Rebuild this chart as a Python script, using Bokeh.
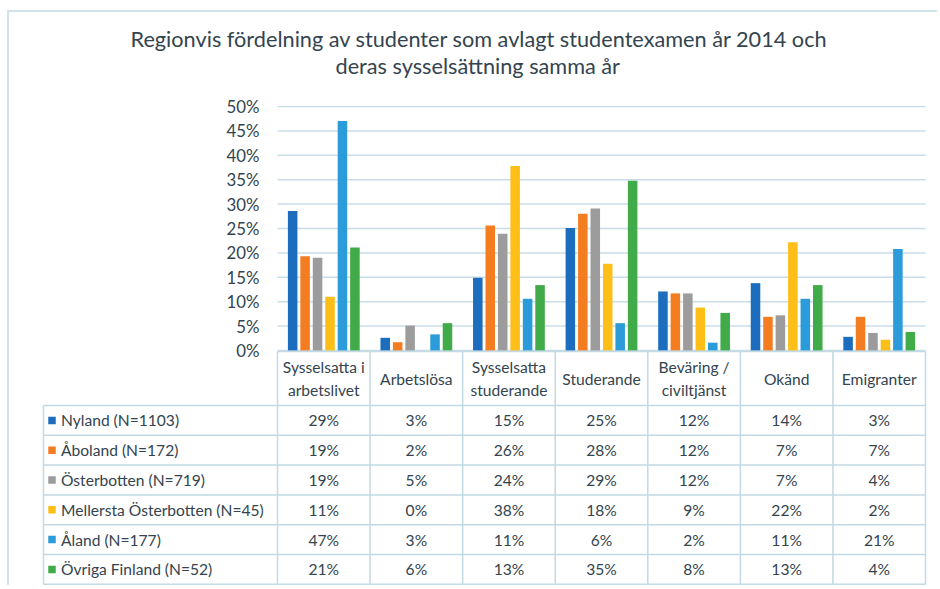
from bokeh.plotting import figure
from bokeh.models import Range1d, FixedTicker, PrintfTickFormatter, Title, LinearAxis
from bokeh.core.properties import value
from bokeh.embed import file_html
from bokeh.resources import INLINE

# ---------------- data ----------------
title_lines = ["Regionvis fördelning av studenter som avlagt studentexamen år 2014 och",
               "deras sysselsättning samma år"]
categories = ["Sysselsatta i arbetslivet", "Arbetslösa", "Sysselsatta studerande", "Studerande",
              "Beväring / civiltjänst", "Okänd", "Emigranter"]
header_labels = ["Sysselsatta i\narbetslivet", "Arbetslösa", "Sysselsatta\nstuderande", "Studerande",
                 "Beväring /\nciviltjänst", "Okänd", "Emigranter"]
regions = ["Nyland (N=1103)", "Åboland (N=172)", "Österbotten (N=719)",
           "Mellersta Österbotten (N=45)", "Åland (N=177)", "Övriga Finland (N=52)"]
colors = ["#1c6dbd", "#f47d22", "#9c9c9c", "#fdbf17", "#2b9bd9", "#40ab48"]

nyland = [28.6, 2.6, 14.9, 25.1, 12.1, 13.8, 2.8]
aboland = [19.3, 1.7, 25.6, 28.0, 11.7, 6.9, 6.9]
osterbotten = [19.0, 5.1, 23.9, 29.1, 11.7, 7.2, 3.6]
mellersta = [11.0, 0.0, 37.8, 17.8, 8.8, 22.2, 2.2]
aland = [47.0, 3.3, 10.6, 5.6, 1.6, 10.6, 20.8]
ovriga = [21.1, 5.6, 13.4, 34.8, 7.7, 13.4, 3.8]
series = [nyland, aboland, osterbotten, mellersta, aland, ovriga]

y_ticks = [0, 5, 10, 15, 20, 25, 30, 35, 40, 45, 50]

# ---------------- layout constants (page pixels) ----------------
FONT = "Lato"
TXT = "#33444f"
GRID = "#c8dde8"
LINE = "#c3d9e4"
FRAME_LINE = "#d0e2ea"

LEFT0, TOP0 = 9, 12    # page position of figure content
W, HGT = 930, 575
FRAME_TOP = 105
TOP_BORDER = FRAME_TOP - TOP0
CAT_LEFT = 277         # page x of first category
CAT_PX = 648 / 7       # pixels per category
Y_PX = 245 / 50.2      # pixels per percent
ZERO_Y = 350           # page y of 0 %
FRAME_BOT = TOP0 + HGT

def ux(px):
    return (px - CAT_LEFT) / CAT_PX

def uy(py):
    return (ZERO_Y - py) / Y_PX

nc, nr = len(categories), len(series)

p = figure(width=W, height=HGT,
           x_range=Range1d(ux(LEFT0), ux(LEFT0 + W)),
           y_range=Range1d(uy(FRAME_BOT), uy(FRAME_TOP)),
           output_backend="svg", toolbar_location=None,
           x_axis_location=None, y_axis_location=None,
           min_border_left=0, min_border_right=0, min_border_top=TOP_BORDER, min_border_bottom=0)
p.grid.visible = False
p.outline_line_color = None

# y axis (labels sit to the left of the category area)
yax = LinearAxis(ticker=FixedTicker(ticks=y_ticks), formatter=PrintfTickFormatter(format="%d%%"))
yax.axis_line_color = None
yax.major_tick_line_color = None
yax.minor_tick_line_color = None
yax.major_tick_out = 0
yax.major_tick_in = 0
yax.major_label_standoff = -(259 - LEFT0)
yax.major_label_text_font = FONT
yax.major_label_text_font_size = "16.8px"
yax.major_label_text_color = TXT
p.add_layout(yax, "left")

# gridlines over the category area
p.segment(x0=[0] * len(y_ticks), x1=[nc] * len(y_ticks), y0=y_ticks, y1=y_ticks,
          line_color=GRID, line_width=1.5)

# bars
pitch = 0.1345
bw = 0.103
for j, s in enumerate(series):
    xs = [i + 0.5 + (j - (nr - 1) / 2) * pitch for i in range(nc)]
    p.vbar(x=xs, top=s, bottom=0, width=bw, fill_color=colors[j], line_color=None)

# title: two lines, each centred on the chart
tstyle = dict(text_font=FONT, text_font_size="21.7px", text_font_style="normal", text_color=TXT)
try:
    t2 = Title(text=title_lines[1], align="left", offset=335 - LEFT0, standoff=54, **tstyle)
    t1 = Title(text=title_lines[0], align="left", offset=130 - LEFT0, standoff=-57, **tstyle)
    p.add_layout(t2, "above")
    p.add_layout(t1, "above")
except Exception:
    tkw = dict(text="\n".join(title_lines), align="center", **tstyle)
    p.add_layout(Title(**tkw), "above")

# ---------------- data table ----------------
tab_left = ux(43)
h_top = uy(351)
h_bot = uy(405)
row_h = 29.8 / Y_PX

hx0 = [tab_left] * (nr + 1) + [0]
hx1 = [nc] * (nr + 2)
hy = [h_bot - r * row_h for r in range(nr + 1)] + [h_top]
p.segment(x0=hx0, y0=hy, x1=hx1, y1=hy, line_color=LINE, line_width=1.5)
vx = [tab_left] + list(range(nc + 1))
vy0 = [h_bot - nr * row_h] * (nc + 2)
vy1 = [h_bot] + [h_top] * (nc + 1)
p.segment(x0=vx, y0=vy0, x1=vx, y1=vy1, line_color=LINE, line_width=1.5)

TFS = "15.6px"
p.text(x=[i + 0.5 for i in range(nc)], y=[(h_top + h_bot) / 2] * nc, text=header_labels,
       text_align="center", text_baseline="middle", text_font=value(FONT), text_font_size=TFS,
       text_color=TXT, text_line_height=1.25)

ry = [h_bot - (r + 0.5) * row_h for r in range(nr)]
p.scatter(x=[ux(51.5)] * nr, y=ry, marker="square", size=7.5, fill_color=colors, line_color=None)
p.text(x=[ux(60.5)] * nr, y=ry, text=regions, text_align="left", text_baseline="middle",
       text_font=value(FONT), text_font_size=TFS, text_color=TXT)

cx, cy, ct = [], [], []
for r, s in enumerate(series):
    for i, v in enumerate(s):
        cx.append(i + 0.5)
        cy.append(ry[r])
        ct.append(f"{v:.0f}%")
p.text(x=cx, y=cy, text=ct, text_align="center", text_baseline="middle",
       text_font=value(FONT), text_font_size=TFS, text_color=TXT)

p.styles = {"margin-left": "7px", "margin-top": "10px",
            "border-left": f"2px solid {FRAME_LINE}", "border-top": f"2px solid {FRAME_LINE}"}

open("out.html", "w").write(file_html(p, INLINE))
